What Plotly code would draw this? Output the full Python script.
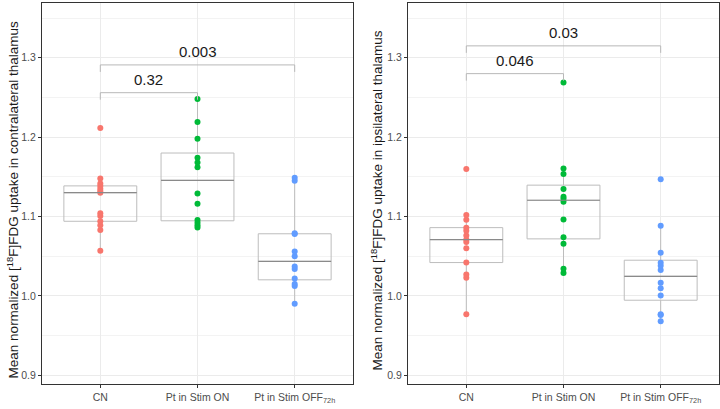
import numpy as np
import plotly.graph_objects as go

# ---------------- data ----------------
categories = ["CN", "Pt in Stim ON", "Pt in Stim OFF<sub>72h</sub>"]
group_colors = ["#F8766D", "#00BA38", "#619CFF"]

contra_cn = [1.057, 1.083, 1.089, 1.094, 1.1005, 1.104, 1.130, 1.132, 1.135, 1.1386, 1.1416, 1.148, 1.2115]
contra_on = [1.0863, 1.089, 1.092, 1.0955, 1.116, 1.129, 1.162, 1.168, 1.174, 1.198, 1.219, 1.248]
contra_off = [0.990, 1.0126, 1.015, 1.022, 1.034, 1.037, 1.050, 1.056, 1.078, 1.079, 1.145, 1.1487]

ipsi_cn = [0.977, 1.023, 1.027, 1.042, 1.060, 1.068, 1.071, 1.076, 1.082, 1.086, 1.096, 1.102, 1.160]
ipsi_on = [1.0289, 1.0343, 1.0657, 1.0739, 1.0963, 1.1185, 1.1225, 1.1248, 1.1348, 1.1537, 1.1604, 1.269]
ipsi_off = [0.968, 0.976, 0.977, 1.0004, 1.0096, 1.0167, 1.0327, 1.038, 1.0418, 1.0544, 1.0883, 1.147]

contra_pvals = ["0.32", "0.003"]
ipsi_pvals = ["0.046", "0.03"]

contra_title = "Mean normalized [<sup>18</sup>F]FDG uptake in contralateral thalamus"
ipsi_title = "Mean normalized [<sup>18</sup>F]FDG uptake in ipsilateral thalamus"

y_ticks = [0.9, 1.0, 1.1, 1.2, 1.3]
y_tick_labels = ["0.9", "1.0", "1.1", "1.2", "1.3"]

# ---------------- layout helpers ----------------
W, H = 720, 409
FONT = "Liberation Sans, Arial, sans-serif"
Y_RANGE = [0.889, 1.369]
X_RANGE = [0.4, 3.6]
BOX_W = 0.75


def box_stats(vals):
    """ggplot2-style (R type 7) box statistics."""
    v = np.asarray(vals, dtype=float)
    q1, med, q3 = np.percentile(v, [25, 50, 75])
    iqr = q3 - q1
    lo = float(v[v >= q1 - 1.5 * iqr].min())
    hi = float(v[v <= q3 + 1.5 * iqr].max())
    return float(q1), float(med), float(q3), lo, hi


fig = go.Figure()

panels = [
    dict(groups=[contra_cn, contra_on, contra_off], pvals=contra_pvals, title=contra_title,
         xa="x", ya="y", dom=[42 / W, 353 / W], title_x=13 / W,
         brackets=[(1, 2, 1.256), (1, 3, 1.291)]),
    dict(groups=[ipsi_cn, ipsi_on, ipsi_off], pvals=ipsi_pvals, title=ipsi_title,
         xa="x2", ya="y2", dom=[408 / W, 719 / W], title_x=377 / W,
         brackets=[(1, 2, 1.280), (1, 3, 1.315)]),
]

shapes = []
annotations = []
for p in panels:
    for i, (vals, col) in enumerate(zip(p["groups"], group_colors)):
        xpos = i + 1
        q1, med, q3, lo, hi = box_stats(vals)
        fig.add_trace(go.Box(
            x=[xpos], q1=[q1], median=[med], q3=[q3], lowerfence=[lo], upperfence=[hi],
            xaxis=p["xa"], yaxis=p["ya"],
            width=BOX_W, boxpoints=False, fillcolor="rgba(255,255,255,0)",
            line=dict(color="#bdbdbd", width=1), whiskerwidth=0,
            showlegend=False, hoverinfo="skip",
        ))
        shapes.append(dict(type="line", xref=p["xa"], yref=p["ya"],
                           x0=xpos - BOX_W / 2, x1=xpos + BOX_W / 2, y0=med, y1=med,
                           line=dict(color="#8a8a8a", width=1.2), layer="above"))
        fig.add_trace(go.Scatter(
            x=[xpos] * len(vals), y=vals, xaxis=p["xa"], yaxis=p["ya"], mode="markers",
            marker=dict(color=col, size=6, line=dict(width=0)),
            showlegend=False, hoverinfo="skip",
        ))
    # significance brackets
    tick = 0.0088
    for (a, b, yb), pv in zip(p["brackets"], p["pvals"]):
        shapes.append(dict(type="path", xref=p["xa"], yref=p["ya"],
                           path=f"M {a},{yb - tick} L {a},{yb} L {b},{yb} L {b},{yb - tick}",
                           line=dict(color="#b8b8b8", width=1)))
        annotations.append(dict(x=(a + b) / 2, y=yb, xref=p["xa"], yref=p["ya"],
                                text=pv, showarrow=False, yanchor="bottom", yshift=3,
                                font=dict(family=FONT, size=15, color="#1a1a1a")))
    annotations.append(dict(x=p["title_x"], y=0.51, xref="paper", yref="paper",
                            text=p["title"], textangle=-90, showarrow=False,
                            xanchor="center", yanchor="middle",
                            font=dict(family=FONT, size=13.5, color="#1a1a1a")))

y_dom = [(H - 384) / H, (H - 3) / H]
axis_common_x = dict(range=X_RANGE, tickvals=[1, 2, 3], ticktext=categories,
                     showgrid=True, gridcolor="#ebebeb", gridwidth=1, zeroline=False,
                     showline=True, linecolor="#333333", linewidth=1, mirror=True,
                     ticks="outside", ticklen=3, tickcolor="#333333", automargin=False,
                     tickfont=dict(family=FONT, size=10.5, color="#4d4d4d"))
axis_common_y = dict(range=Y_RANGE, tickvals=y_ticks, ticktext=y_tick_labels, domain=y_dom,
                     showgrid=True, gridcolor="#ebebeb", gridwidth=1, zeroline=False,
                     showline=True, linecolor="#333333", linewidth=1, mirror=True,
                     ticks="outside", ticklen=3, tickcolor="#333333", automargin=False,
                     minor=dict(tickvals=[0.95, 1.05, 1.15, 1.25, 1.35], showgrid=True,
                                gridcolor="#f3f3f3", gridwidth=0.6, ticks=""),
                     tickfont=dict(family=FONT, size=10.5, color="#4d4d4d"))

fig.update_layout(
    width=W, height=H, margin=dict(l=0, r=0, t=0, b=0, autoexpand=False),
    paper_bgcolor="white", plot_bgcolor="white",
    xaxis=dict(domain=panels[0]["dom"], anchor="y", **axis_common_x),
    yaxis=dict(anchor="x", **axis_common_y),
    xaxis2=dict(domain=panels[1]["dom"], anchor="y2", **axis_common_x),
    yaxis2=dict(anchor="x2", **axis_common_y),
    shapes=shapes, annotations=annotations, showlegend=False,
)

fig.write_html("out.html", config={"displayModeBar": False},
               post_script="document.body.style.margin='0';document.body.style.padding='0';")
